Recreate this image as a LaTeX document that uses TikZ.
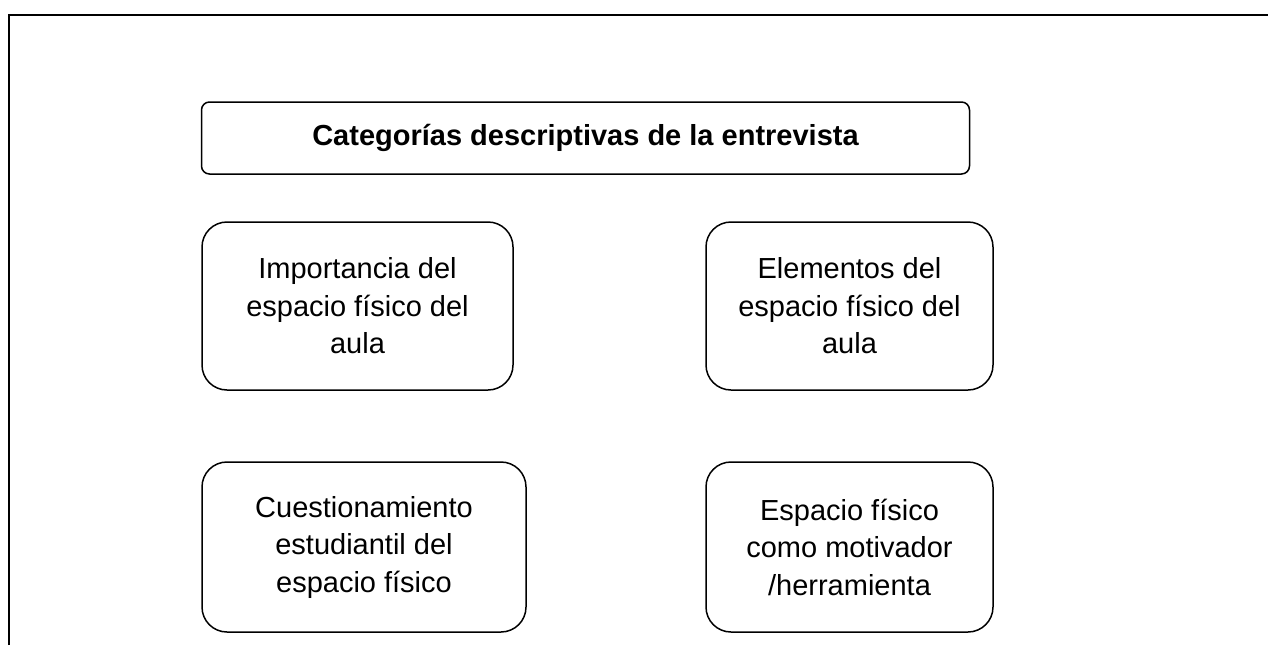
\documentclass[tikz,border=0pt]{standalone}
\usepackage{fontspec}
\setmainfont{Liberation Sans}
\usepackage{xcolor}
\usetikzlibrary{positioning}

\begin{document}
\begin{tikzpicture}[
x=1pt, y=-1pt,
titulo/.style={draw, line width=1.5pt, rounded corners=8pt, minimum width=768pt, minimum height=72pt, align=center, font=\fontsize{29}{34}\selectfont\bfseries},
cat/.style={draw, line width=1.5pt, rounded corners=25pt, minimum height=168pt, align=center, font=\fontsize{29}{37.5}\selectfont},
marco/.style={line width=2.5pt}
]
\useasboundingbox (0,0) rectangle (1268,645);
% marco de la pagina
\draw[marco] (9,645) -- (9,15) -- (1268,15);

\node[titulo] (tit) at (585.5,138) {Categorías descriptivas de la entrevista};
\node[cat, minimum width=311pt] (imp) at (357.5,306) {Importancia del\\espacio físico del\\aula};
\node[cat, minimum width=287pt] (elem) at (849.5,306) {Elementos del\\espacio físico del\\aula};
\node[cat, minimum width=324pt, minimum height=170pt] (cuest) at (364,547) {Cuestionamiento\\estudiantil del\\espacio físico};
\node[cat, minimum width=287pt, minimum height=170pt] (motiv) at (849.5,547) {Espacio físico\\como motivador\\/herramienta};
\end{tikzpicture}
\end{document}
